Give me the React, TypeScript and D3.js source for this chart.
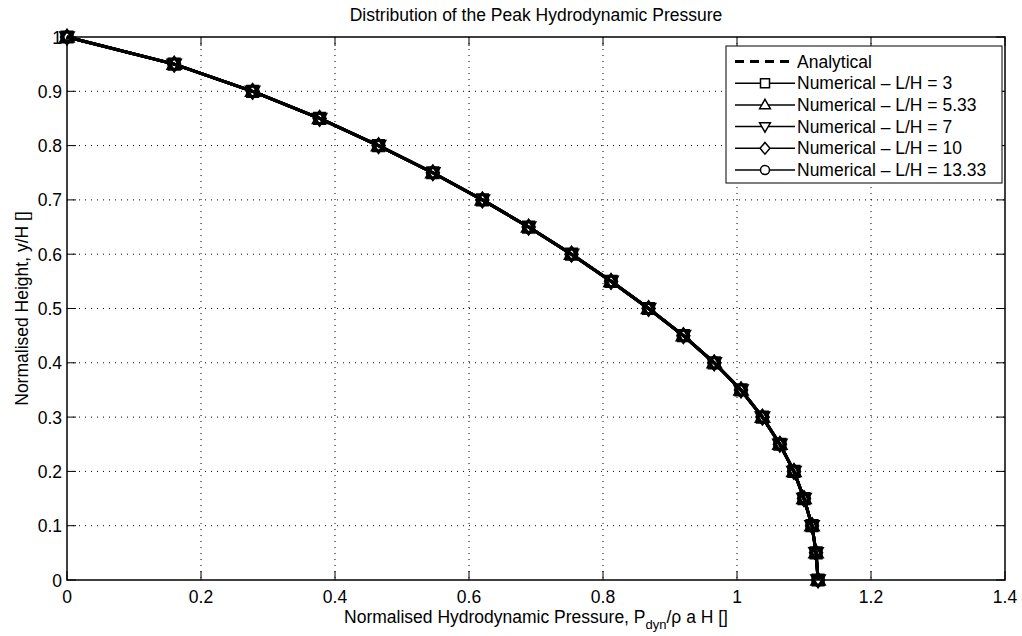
import React, { useRef, useEffect } from "react";
import * as d3 from "d3";

// normalised height y/H
const heights = [1, 0.95, 0.9, 0.85, 0.8, 0.75, 0.7, 0.65, 0.6, 0.55, 0.5, 0.45, 0.4, 0.35, 0.3, 0.25, 0.2, 0.15, 0.1, 0.05, 0];
// normalised peak pressure P_dyn / (rho a H)
const analytical = [0, 0.16, 0.277, 0.377, 0.465, 0.546, 0.62, 0.689, 0.753, 0.812, 0.868, 0.92, 0.966, 1.006, 1.038, 1.064, 1.085, 1.1, 1.112, 1.118, 1.121];
const numLH3 = [0, 0.16, 0.277, 0.377, 0.465, 0.546, 0.62, 0.689, 0.753, 0.812, 0.868, 0.92, 0.966, 1.006, 1.038, 1.064, 1.085, 1.1, 1.112, 1.118, 1.121];
const numLH533 = [0, 0.16, 0.277, 0.377, 0.465, 0.546, 0.62, 0.689, 0.753, 0.812, 0.868, 0.92, 0.966, 1.006, 1.038, 1.064, 1.085, 1.1, 1.112, 1.118, 1.121];
const numLH7 = [0, 0.16, 0.277, 0.377, 0.465, 0.546, 0.62, 0.689, 0.753, 0.812, 0.868, 0.92, 0.966, 1.006, 1.038, 1.064, 1.085, 1.1, 1.112, 1.118, 1.121];
const numLH10 = [0, 0.16, 0.277, 0.377, 0.465, 0.546, 0.62, 0.689, 0.753, 0.812, 0.868, 0.92, 0.966, 1.006, 1.038, 1.064, 1.085, 1.1, 1.112, 1.118, 1.121];
const numLH1333 = [0, 0.16, 0.277, 0.377, 0.465, 0.546, 0.62, 0.689, 0.753, 0.812, 0.868, 0.92, 0.966, 1.006, 1.038, 1.064, 1.085, 1.1, 1.112, 1.118, 1.121];

const seriesNames = ["Numerical \u2013 L/H = 3", "Numerical \u2013 L/H = 5.33", "Numerical \u2013 L/H = 7", "Numerical \u2013 L/H = 10", "Numerical \u2013 L/H = 13.33"];
const seriesValues = [numLH3, numLH533, numLH7, numLH10, numLH1333];
const markerKinds = ["square", "up", "down", "diamond", "circle"];

const xTicks = [0, 0.2, 0.4, 0.6, 0.8, 1, 1.2, 1.4];
const yTicks = [0, 0.1, 0.2, 0.3, 0.4, 0.5, 0.6, 0.7, 0.8, 0.9, 1];

const W = 1022;
const H = 636;
const FONT = "Liberation Sans, Arial, Helvetica, sans-serif";
const FS = 17.5;

const markerPath = (kind: string, s: number) => {
  switch (kind) {
    case "square":
      return `M${-s},${-s}H${s}V${s}H${-s}Z`;
    case "up":
      return `M0,${-s * 1.25}L${s * 1.2},${s * 0.85}H${-s * 1.2}Z`;
    case "down":
      return `M0,${s * 1.25}L${s * 1.2},${-s * 0.85}H${-s * 1.2}Z`;
    case "diamond":
      return `M0,${-s * 1.3}L${s * 1.1},0L0,${s * 1.3}L${-s * 1.1},0Z`;
    default:
      return d3.arc()({ innerRadius: 0, outerRadius: s, startAngle: 0, endAngle: 2 * Math.PI }) as string;
  }
};

const App = () => {
  const ref = useRef<SVGSVGElement>(null);

  useEffect(() => {
    if (!ref.current) return;
    const svg = d3.select(ref.current);
    svg.selectAll("*").remove();

    const left = 67, right = 1005, top = 37, bottom = 580;
    const x = d3.scaleLinear().domain([0, 1.4]).range([left, right]);
    const y = d3.scaleLinear().domain([0, 1]).range([bottom, top]);

    svg.append("rect").attr("width", W).attr("height", H).attr("fill", "#fff");

    // grid
    const grid = svg.append("g").attr("stroke", "#000").attr("stroke-width", 1).attr("stroke-dasharray", "1,5");
    xTicks.slice(1, -1).forEach((t) => {
      grid.append("line").attr("x1", x(t)).attr("x2", x(t)).attr("y1", top).attr("y2", bottom);
    });
    yTicks.slice(1, -1).forEach((t) => {
      grid.append("line").attr("x1", left).attr("x2", right).attr("y1", y(t)).attr("y2", y(t));
    });

    // ticks (inward, all sides)
    const tk = svg.append("g").attr("stroke", "#000").attr("stroke-width", 1);
    xTicks.forEach((t) => {
      tk.append("line").attr("x1", x(t)).attr("x2", x(t)).attr("y1", bottom).attr("y2", bottom - 9);
      tk.append("line").attr("x1", x(t)).attr("x2", x(t)).attr("y1", top).attr("y2", top + 9);
    });
    yTicks.forEach((t) => {
      tk.append("line").attr("x1", left).attr("x2", left + 9).attr("y1", y(t)).attr("y2", y(t));
      tk.append("line").attr("x1", right).attr("x2", right - 9).attr("y1", y(t)).attr("y2", y(t));
    });

    svg.append("rect")
      .attr("x", left).attr("y", top).attr("width", right - left).attr("height", bottom - top)
      .attr("fill", "none").attr("stroke", "#000").attr("stroke-width", 1.5);

    // tick labels
    const lab = svg.append("g").attr("font-family", FONT).attr("font-size", FS).attr("fill", "#000");
    xTicks.forEach((t) => {
      lab.append("text").attr("x", x(t)).attr("y", bottom + 23).attr("text-anchor", "middle").text(d3.format("~g")(t));
    });
    yTicks.forEach((t) => {
      lab.append("text").attr("x", left - 5).attr("y", y(t) + 6.5).attr("text-anchor", "end").text(d3.format("~g")(t));
    });

    // title and labels
    svg.append("text").attr("x", (left + right) / 2).attr("y", 21).attr("text-anchor", "middle")
      .attr("font-family", FONT).attr("font-size", FS).text("Distribution of the Peak Hydrodynamic Pressure");

    const xl = svg.append("text").attr("x", (left + right) / 2).attr("y", 623).attr("text-anchor", "middle")
      .attr("font-family", FONT).attr("font-size", FS);
    xl.append("tspan").text("Normalised Hydrodynamic Pressure, P");
    xl.append("tspan").attr("dy", 6).attr("font-size", 13).text("dyn");
    xl.append("tspan").attr("dy", -6).text("/\u03c1 a H []");

    svg.append("text").attr("transform", `translate(28,${(top + bottom) / 2}) rotate(-90)`)
      .attr("text-anchor", "middle").attr("font-family", FONT).attr("font-size", FS)
      .text("Normalised Height, y/H []");

    const line = d3.line<number>().x((d) => x(d)).y((_, i) => y(heights[i]));

    // analytical dashed
    svg.append("path").datum(analytical).attr("d", line).attr("fill", "none")
      .attr("stroke", "#000").attr("stroke-width", 3).attr("stroke-dasharray", "9,6");

    seriesValues.forEach((vals, si) => {
      svg.append("path").datum(vals).attr("d", line).attr("fill", "none")
        .attr("stroke", "#000").attr("stroke-width", 3);
      svg.append("g").selectAll("path").data(vals).enter().append("path")
        .attr("transform", (d, i) => `translate(${x(d)},${y(heights[i])})`)
        .attr("d", markerPath(markerKinds[si], 5.5))
        .attr("fill", "none").attr("stroke", "#000").attr("stroke-width", 2.2);
    });

    // legend
    const lg = svg.append("g");
    lg.append("rect").attr("x", 726).attr("y", 46).attr("width", 276).attr("height", 137)
      .attr("fill", "#fff").attr("stroke", "#000").attr("stroke-width", 1);
    const rowY = (i: number) => 61.5 + i * 21.7;
    lg.append("line").attr("x1", 735).attr("x2", 795).attr("y1", rowY(0)).attr("y2", rowY(0))
      .attr("stroke", "#000").attr("stroke-width", 3).attr("stroke-dasharray", "9,6");
    lg.append("text").attr("x", 797).attr("y", rowY(0) + 6).attr("font-family", FONT).attr("font-size", FS).text("Analytical");
    seriesNames.forEach((name, i) => {
      const yy = rowY(i + 1);
      lg.append("line").attr("x1", 735).attr("x2", 795).attr("y1", yy).attr("y2", yy)
        .attr("stroke", "#000").attr("stroke-width", 1.5);
      lg.append("path").attr("transform", `translate(765,${yy})`).attr("d", markerPath(markerKinds[i], 4.5))
        .attr("fill", "#fff").attr("stroke", "#000").attr("stroke-width", 1.5);
      lg.append("text").attr("x", 797).attr("y", yy + 6).attr("font-family", FONT).attr("font-size", FS).text(name);
    });
  }, []);

  return (
    <svg ref={ref} width={W} height={H} style={{ position: "absolute", left: 0, top: 0, display: "block" }} />
  );
};

export default App;
